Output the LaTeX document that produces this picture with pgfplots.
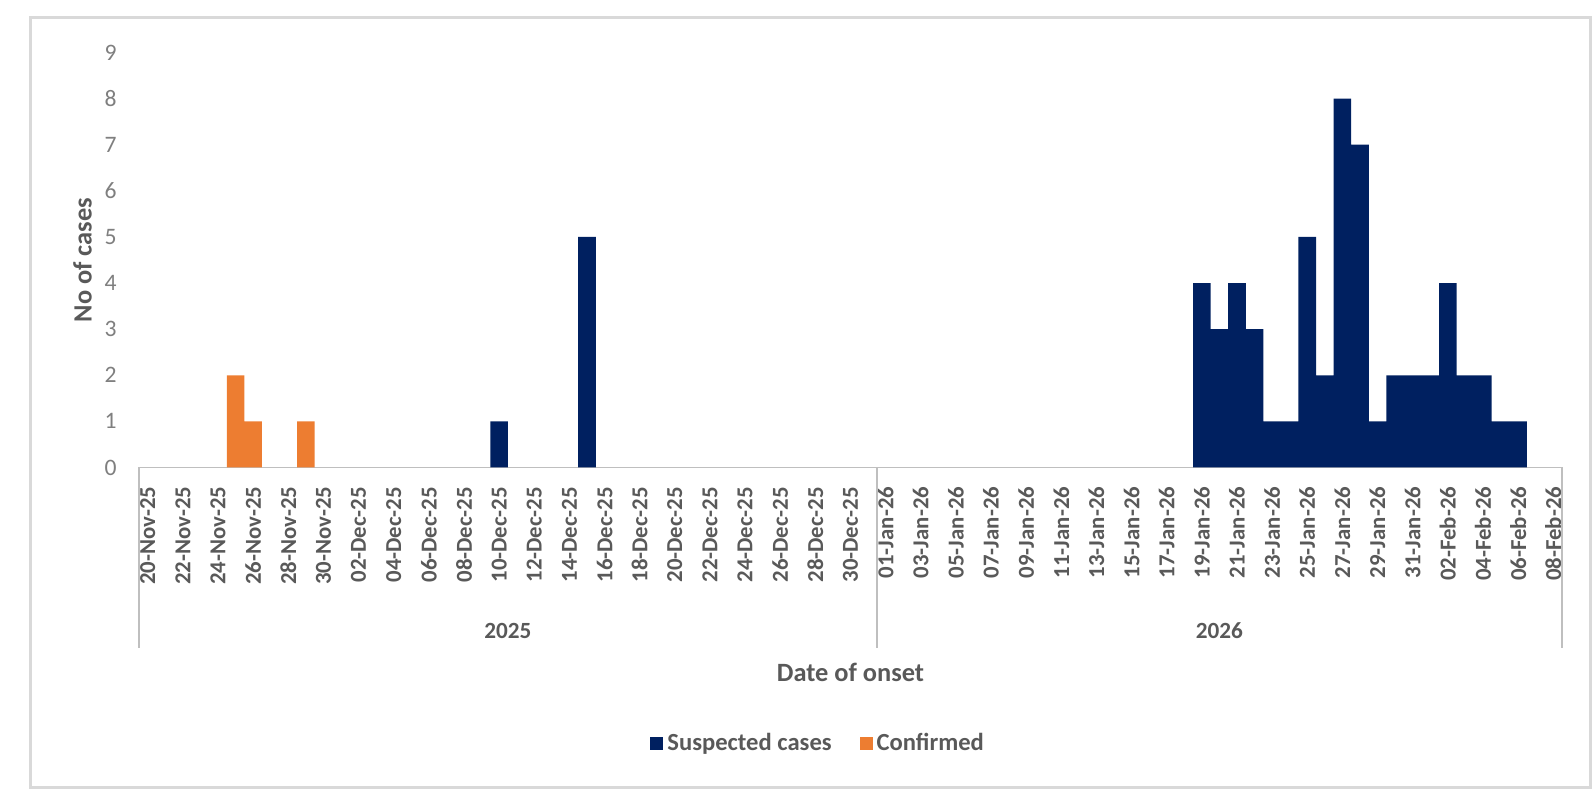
\documentclass[border=0pt]{standalone}
\usepackage{pgfplots}
\pgfplotsset{compat=1.18}
\usepackage{fontspec}
\setmainfont{Carlito}
\definecolor{navy}{HTML}{002060}
\definecolor{orng}{HTML}{ED7D31}
\definecolor{txt}{HTML}{595959}
\definecolor{ytxt}{HTML}{7F7F7F}
\definecolor{lgray}{HTML}{D9D9D9}
\definecolor{mgray}{HTML}{BFBFBF}
\begin{document}
\begin{tikzpicture}
\useasboundingbox (0,0) rectangle (797.5bp,400bp);
\draw[lgray, line width=1.5bp] (15bp,6bp) rectangle (795bp,391bp);
\begin{axis}[
  at={(69.5bp,166.25bp)}, anchor=south west,
  scale only axis, width=711.5bp, height=207.5bp,
  xmin=-0.5, xmax=80.5, ymin=0, ymax=9,
  enlargelimits=false, clip=false,
  axis lines*=left,
  x axis line style={mgray, line width=0.75bp, -},
  y axis line style={draw=none},
  major tick length=0pt,
  ytick={0,1,...,9},
  yticklabel style={anchor=east, inner sep=0pt, xshift=-11bp, text=ytxt,
    font=\fontsize{11.8bp}{13bp}\selectfont},
  /pgf/number format/assume math mode=true,
  xtick={0,2,...,80},
  xticklabels={20-Nov-25,22-Nov-25,24-Nov-25,26-Nov-25,28-Nov-25,30-Nov-25,
    02-Dec-25,04-Dec-25,06-Dec-25,08-Dec-25,10-Dec-25,12-Dec-25,14-Dec-25,
    16-Dec-25,18-Dec-25,20-Dec-25,22-Dec-25,24-Dec-25,26-Dec-25,28-Dec-25,
    30-Dec-25,01-Jan-26,03-Jan-26,05-Jan-26,07-Jan-26,09-Jan-26,11-Jan-26,
    13-Jan-26,15-Jan-26,17-Jan-26,19-Jan-26,21-Jan-26,23-Jan-26,25-Jan-26,
    27-Jan-26,29-Jan-26,31-Jan-26,02-Feb-26,04-Feb-26,06-Feb-26,08-Feb-26},
  xticklabel style={rotate=90, anchor=east, inner sep=0pt, xshift=-9.5bp,
    text=txt, font=\fontsize{11.4bp}{13bp}\selectfont\bfseries},
  xlabel={Date of onset},
  ylabel={No of cases},
  x label style={at={(axis description cs:0.5,-0.4928)}, anchor=center,
    text=txt, font=\fontsize{13.2bp}{15bp}\selectfont\bfseries},
  y label style={at={(axis description cs:-0.0397,0.5)}, anchor=center,
    text=txt, font=\fontsize{13.2bp}{15bp}\selectfont\bfseries},
  legend style={at={(axis description cs:0.478,-0.664)}, anchor=center,
    draw=none, fill=none, legend columns=2,
    font=\fontsize{12.3bp}{14bp}\selectfont\bfseries, text=txt,
    /tikz/every even column/.append style={column sep=12bp},
    legend cell align=left},
]
\addplot[ybar, bar width=1, bar shift=0pt, fill=navy, draw=none,
  legend image code/.code={\fill[navy] (0bp,-3.25bp) rectangle (6.5bp,3.25bp);}]
  coordinates {(20,1) (25,5) (60,4) (61,3) (62,4) (63,3) (64,1) (65,1)
    (66,5) (67,2) (68,8) (69,7) (70,1) (71,2) (72,2) (73,2) (74,4) (75,2)
    (76,2) (77,1) (78,1)};
\addlegendentry{Suspected cases}
\addplot[ybar, bar width=1, bar shift=0pt, fill=orng, draw=none,
  legend image code/.code={\fill[orng] (0bp,-3.25bp) rectangle (6.5bp,3.25bp);}]
  coordinates {(5,2) (6,1) (9,1)};
\addlegendentry{Confirmed}
\draw[mgray, line width=0.75bp] (axis cs:-0.5,0) -- ([yshift=-90.25bp]axis cs:-0.5,0);
\draw[mgray, line width=0.75bp] (axis cs:41.5,0) -- ([yshift=-90.25bp]axis cs:41.5,0);
\draw[mgray, line width=0.75bp] (axis cs:80.5,0) -- ([yshift=-90.25bp]axis cs:80.5,0);
\node[text=txt, font=\fontsize{11.6bp}{13bp}\selectfont\bfseries, anchor=center]
  at ([yshift=-81.75bp]axis cs:20.5,0) {2025};
\node[text=txt, font=\fontsize{11.6bp}{13bp}\selectfont\bfseries, anchor=center]
  at ([yshift=-81.75bp]axis cs:61,0) {2026};
\end{axis}
\end{tikzpicture}
\end{document}
